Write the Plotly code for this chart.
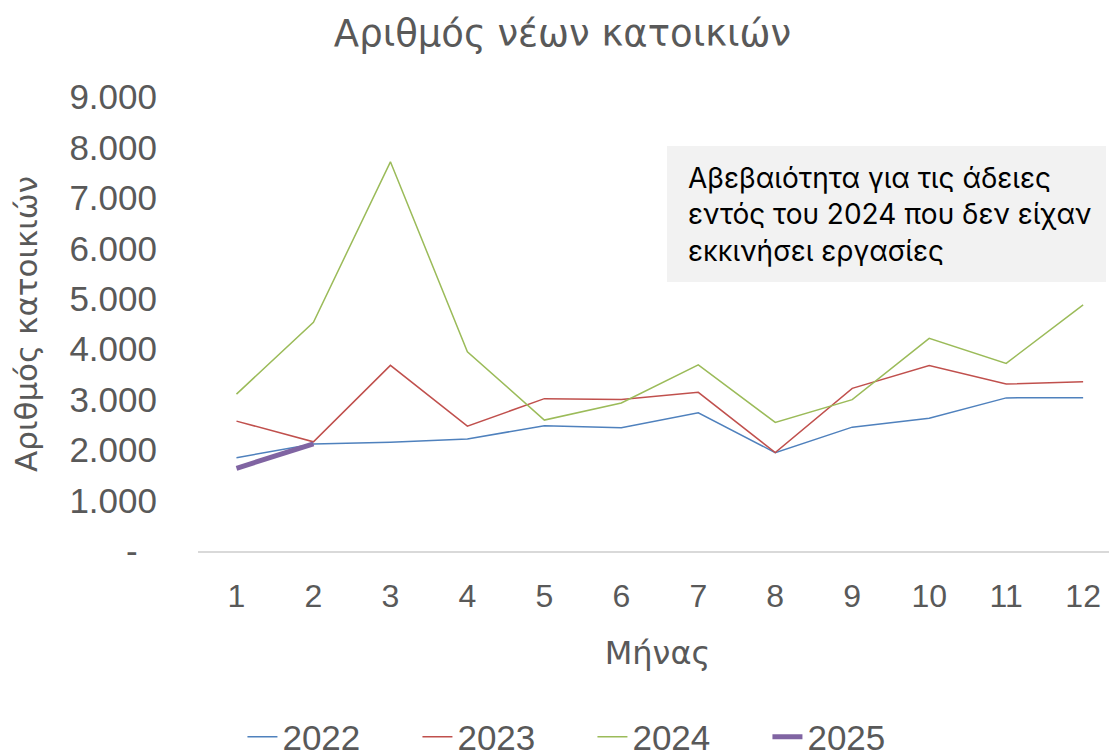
import plotly.graph_objects as go

# months and yearly series
months = list(range(1, 13))
y2022 = [1850, 2120, 2155, 2220, 2485, 2445, 2740, 1950, 2455, 2630, 3035, 3040]
y2023 = [2575, 2165, 3680, 2475, 3020, 3005, 3145, 1950, 3225, 3675, 3310, 3355]
y2024 = [3110, 4535, 7715, 3950, 2595, 2935, 3690, 2550, 3000, 4215, 3720, 4880]
months_2025 = [1, 2]
y2025 = [1640, 2125]

ytick_vals = [0, 1000, 2000, 3000, 4000, 5000, 6000, 7000, 8000, 9000]
ytick_text = ["-\u00a0\u00a0", "1.000", "2.000", "3.000", "4.000", "5.000",
              "6.000", "7.000", "8.000", "9.000"]

note = "Αβεβαιότητα για τις άδειες<br>εντός του 2024 που δεν είχαν<br>εκκινήσει εργασίες"

grey = "#595959"
# page body has an 8px margin, so the figure is drawn 8px smaller
W, H = 1109, 743

fig = go.Figure()
fig.add_scatter(x=months, y=y2022, mode="lines", name="2022",
                line=dict(color="#4F81BD", width=1.5))
fig.add_scatter(x=months, y=y2023, mode="lines", name="2023",
                line=dict(color="#C0504D", width=1.5))
fig.add_scatter(x=months, y=y2024, mode="lines", name="2024",
                line=dict(color="#9BBB59", width=1.5))
fig.add_scatter(x=months_2025, y=y2025, mode="lines", name="2025",
                line=dict(color="#8064A2", width=5))

# grey note box
fig.add_shape(type="rect", xref="paper", yref="paper",
              x0=0.5103, x1=0.988, y0=0.5925, y1=0.892,
              fillcolor="#F2F2F2", line=dict(width=0), layer="below")
fig.add_annotation(text=note, xref="paper", yref="paper", x=0.531, y=0.742,
                   xanchor="left", yanchor="middle", align="left", showarrow=False,
                   font=dict(family="Inter", size=28, color="black"))

fig.update_layout(
    width=W, height=H,
    margin=dict(l=190, r=0, t=89, b=200),
    paper_bgcolor="white", plot_bgcolor="white",
    title=dict(text="Αριθμός νέων κατοικιών", x=0.5, xanchor="center",
               y=1 - 25 / H, yanchor="middle",
               font=dict(family="DejaVu Sans", size=37, color=grey)),
    font=dict(family="Liberation Sans", color=grey),
    showlegend=True,
    legend=dict(orientation="h", xref="container", yref="container",
                x=0.527, xanchor="center", y=1 - 729 / H, yanchor="middle",
                font=dict(family="Liberation Sans", size=35, color=grey),
                entrywidth=130, entrywidthmode="pixels", itemwidth=30),
)
fig.update_xaxes(range=[0.5, 12.44], tickvals=months, showgrid=False, zeroline=False,
                 showline=True, linecolor="#D9D9D9", linewidth=1.5,
                 ticks="", ticklabelstandoff=16, automargin=False,
                 tickfont=dict(family="Liberation Sans", size=32, color=grey),
                 title=dict(text="Μήνας", standoff=28,
                            font=dict(family="DejaVu Sans", size=32, color=grey)))
fig.update_yaxes(range=[0, 9000], tickvals=ytick_vals, ticktext=ytick_text,
                 showgrid=False, zeroline=False, showline=False, ticks="",
                 ticklabelstandoff=40, automargin=False,
                 tickfont=dict(family="Liberation Sans", size=35, color=grey),
                 title=dict(text="Αριθμός κατοικιών", standoff=30,
                            font=dict(family="DejaVu Sans", size=31, color=grey)))

fig.write_html("out.html")
